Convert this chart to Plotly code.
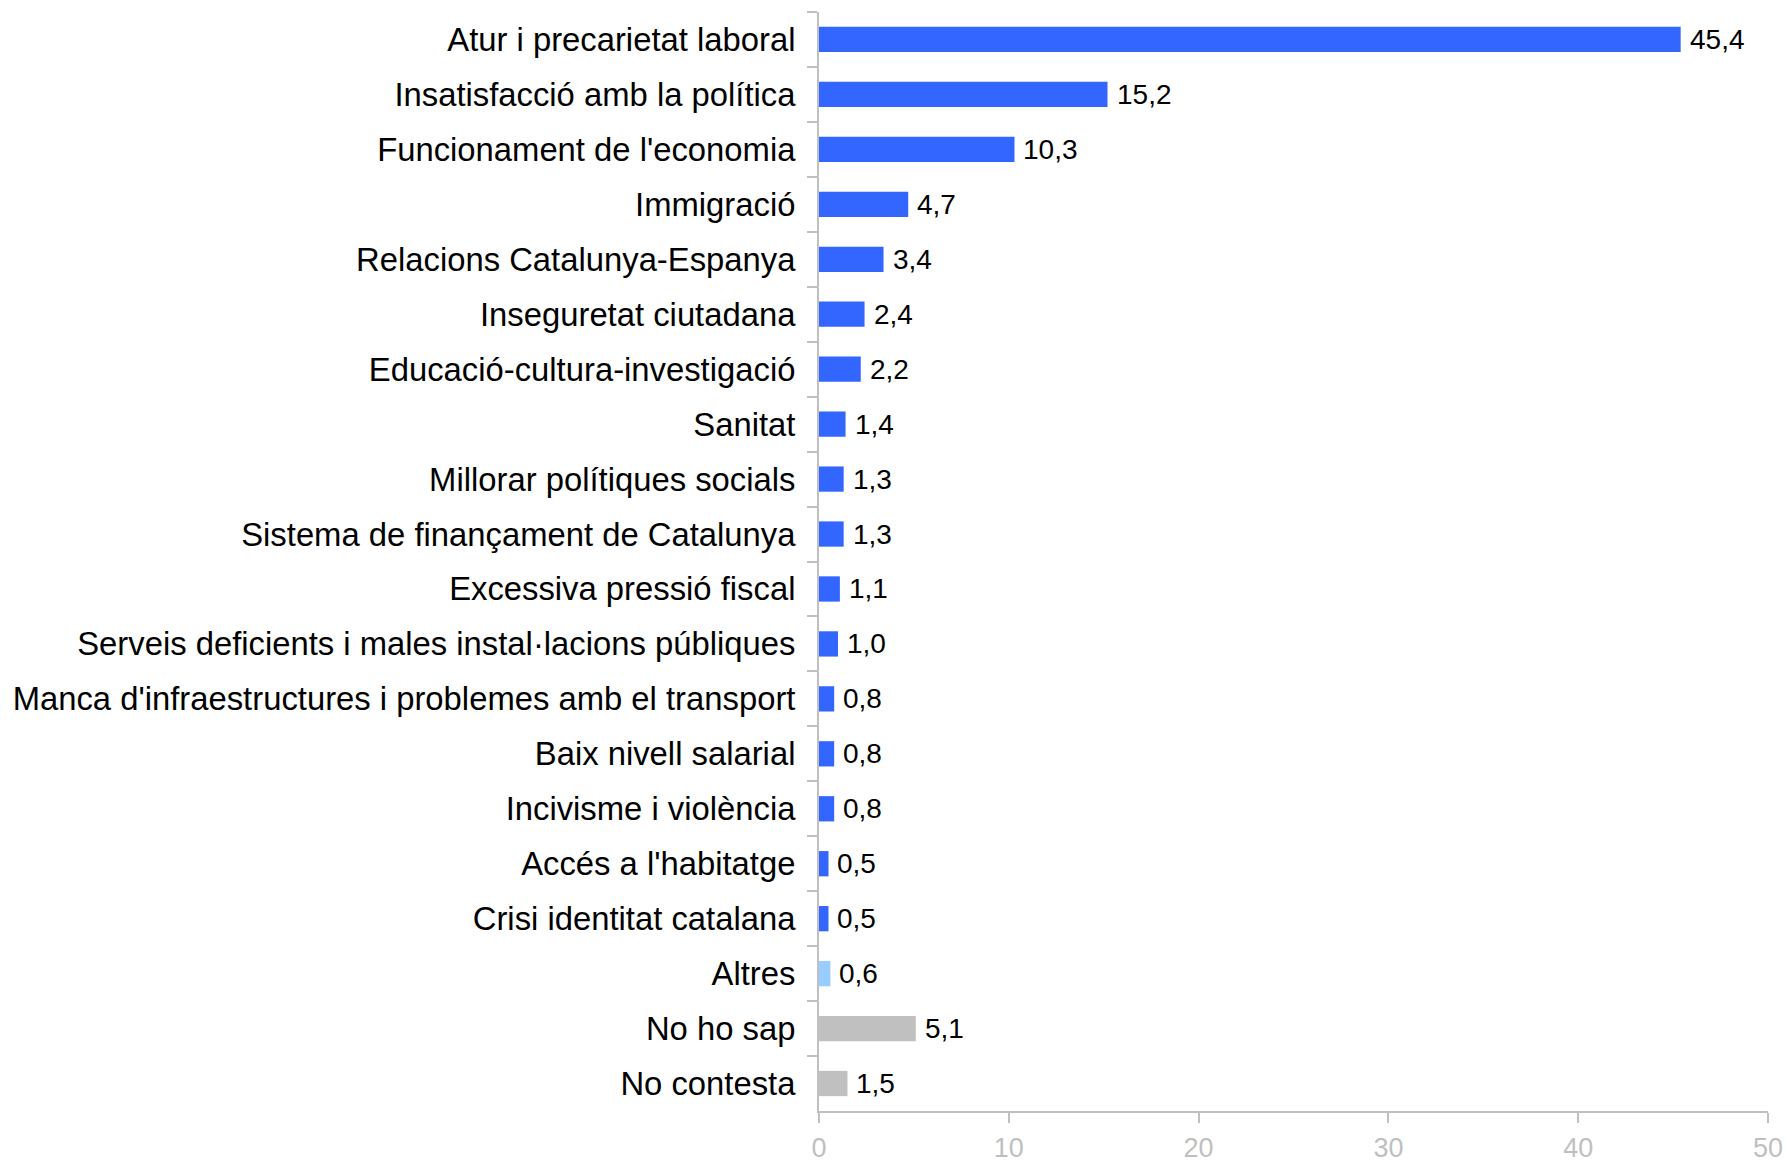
import plotly.graph_objects as go

categories = [
    "Atur i precarietat laboral",
    "Insatisfacció amb la política",
    "Funcionament de l'economia",
    "Immigració",
    "Relacions Catalunya-Espanya",
    "Inseguretat ciutadana",
    "Educació-cultura-investigació",
    "Sanitat",
    "Millorar polítiques socials",
    "Sistema de finançament de Catalunya",
    "Excessiva pressió fiscal",
    "Serveis deficients i males instal·lacions públiques",
    "Manca d'infraestructures i problemes amb el transport",
    "Baix nivell salarial",
    "Incivisme i violència",
    "Accés a l'habitatge",
    "Crisi identitat catalana",
    "Altres",
    "No ho sap",
    "No contesta",
]
values = [45.4, 15.2, 10.3, 4.7, 3.4, 2.4, 2.2, 1.4, 1.3, 1.3, 1.1, 1.0, 0.8, 0.8, 0.8, 0.5, 0.5, 0.6, 5.1, 1.5]
groups = ["main"] * 17 + ["other", "nsnc", "nsnc"]
x_ticks = [0, 10, 20, 30, 40, 50]

color_map = {"main": "#3366FF", "other": "#99CCFF", "nsnc": "#C0C0C0"}
colors = [color_map[g] for g in groups]

fig = go.Figure()
fig.add_trace(go.Bar(
    x=values, y=categories, orientation="h",
    marker=dict(color=colors, line=dict(width=0)),
    hoverinfo="x+y",
))

for c, v in zip(categories, values):
    fig.add_annotation(
        x=v, y=c, text=f"{v:.1f}".replace(".", ","),
        showarrow=False, xanchor="left", yanchor="middle", xshift=7,
        font=dict(family="Liberation Sans, Arial", size=28, color="#000000"),
    )

fig.update_layout(
    width=1787, height=1165,
    margin=dict(l=819, r=19, t=12, b=54, autoexpand=False),
    paper_bgcolor="white", plot_bgcolor="white",
    bargap=0.54,
    showlegend=False,
    font=dict(family="Liberation Sans, Arial"),
)
fig.update_xaxes(
    range=[0, 50], tickvals=x_ticks, ticktext=[str(t) for t in x_ticks],
    showgrid=False, zeroline=False, automargin=False,
    showline=True, linecolor="#C0C0C0", linewidth=2,
    ticks="outside", ticklen=10, tickwidth=2, tickcolor="#C0C0C0",
    ticklabelstandoff=2,
    tickfont=dict(family="Liberation Sans, Arial", size=27, color="#BFBFBF"),
)
fig.update_yaxes(
    autorange="reversed", type="category",
    showgrid=False, zeroline=False, automargin=False,
    showline=True, linecolor="#C0C0C0", linewidth=2,
    ticks="outside", ticklen=10, tickwidth=2, tickcolor="#C0C0C0",
    tickson="boundaries",
    ticklabelstandoff=15,
    tickfont=dict(family="Liberation Sans, Arial", size=32.8, color="#000000"),
)

fig.write_html(
    "out.html",
    config={"displayModeBar": False},
    post_script="document.body.style.margin='0px';document.body.style.overflow='hidden';",
)
